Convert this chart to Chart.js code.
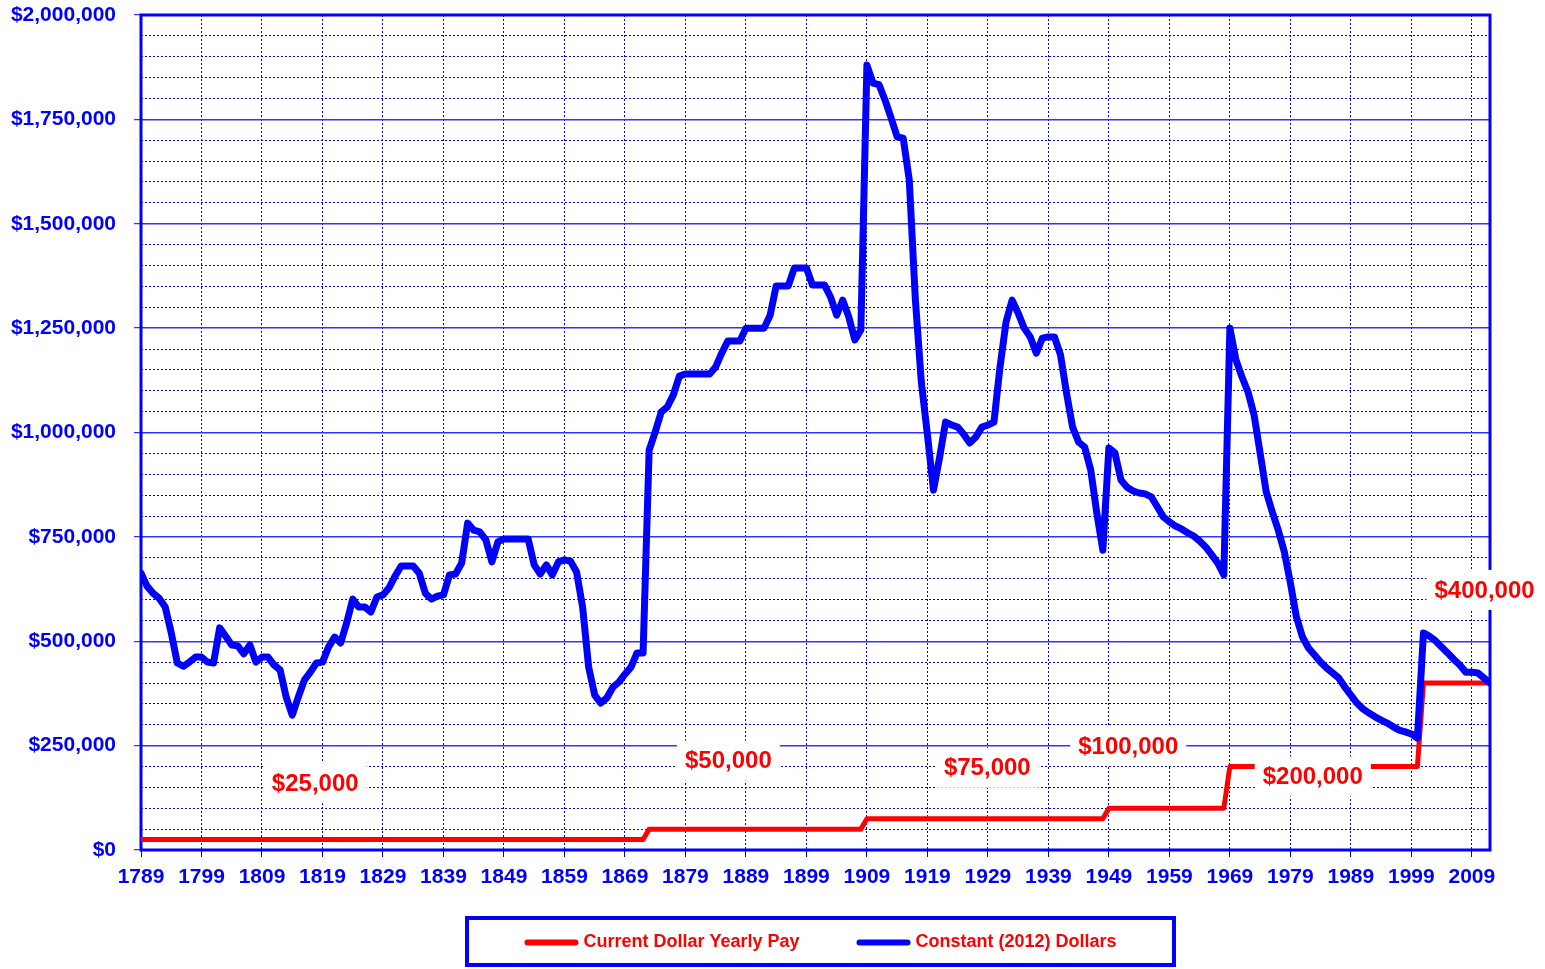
<!DOCTYPE html>
<html>
<head>
<meta charset="utf-8">
<script src="https://cdn.jsdelivr.net/npm/chart.js@4/dist/chart.umd.min.js"></script>
<style>
html,body{margin:0;padding:0;background:#ffffff;}
#wrap{width:1545px;height:969px;position:relative;overflow:hidden;}
</style>
</head>
<body>
<div id="wrap"><canvas id="c" width="1545" height="969"></canvas></div>
<script>
// ---------------- DATA ----------------
const firstYear = 1789;

// Constant (2012) dollars, one value per year 1789..2012
const constantDollars = [
  663000,
  632000, 615000, 603000, 582000, 520000, 448000, 440000, 450000, 462000, 462000,
  450000, 448000, 532000, 512000, 491000, 489000, 470000, 491000, 450000, 462000,
  462000, 443000, 431000, 366000, 323000, 366000, 407000, 426000, 448000, 450000,
  486000, 510000, 496000, 544000, 601000, 582000, 582000, 570000, 606000, 611000,
  628000, 656000, 680000, 680000, 680000, 663000, 615000, 601000, 608000, 611000,
  659000, 661000, 687000, 783000, 766000, 762000, 743000, 690000, 738000, 745000,
  745000, 745000, 745000, 745000, 683000, 661000, 683000, 659000, 690000, 695000,
  692000, 666000, 582000, 438000, 371000, 352000, 364000, 390000, 402000, 421000,
  438000, 472000, 472000, 958000, 1001000, 1049000, 1061000, 1090000, 1135000, 1140000,
  1140000, 1140000, 1140000, 1140000, 1157000, 1190000, 1219000, 1219000, 1219000, 1250000,
  1250000, 1250000, 1250000, 1281000, 1351000, 1351000, 1351000, 1394000, 1394000, 1394000,
  1353000, 1353000, 1353000, 1324000, 1281000, 1317000, 1277000, 1222000, 1245000, 1880000,
  1837000, 1833000, 1796000, 1753000, 1708000, 1705000, 1605000, 1320000, 1120000, 995000,
  862000, 939000, 1025000, 1018000, 1013000, 996000, 975000, 989000, 1013000, 1018000,
  1025000, 1157000, 1265000, 1317000, 1286000, 1250000, 1229000, 1190000, 1226000, 1229000,
  1229000, 1186000, 1094000, 1013000, 977000, 965000, 910000, 807000, 718000, 963000,
  951000, 886000, 869000, 860000, 855000, 853000, 846000, 822000, 798000, 786000,
  776000, 769000, 760000, 752000, 740000, 726000, 707000, 687000, 659000, 1250000,
  1174000, 1133000, 1097000, 1042000, 951000, 858000, 810000, 766000, 714000, 640000,
  558000, 510000, 484000, 467000, 450000, 436000, 424000, 412000, 390000, 371000,
  352000, 338000, 328000, 319000, 311000, 304000, 295000, 287000, 283000, 278000,
  268000, 520000, 512000, 501000, 486000, 472000, 457000, 443000, 426000, 426000,
  424000, 412000, 400000
];
const constantYears = constantDollars.map((_, i) => firstYear + i);

// Current dollar yearly pay (step points)
const payYears  = [1789, 1872, 1873, 1908, 1909, 1948, 1949, 1968, 1969, 2000, 2001, 2012];
const payValues = [25000, 25000, 50000, 50000, 75000, 75000, 100000, 100000, 200000, 200000, 400000, 400000];

// Series names
const seriesLabels = ['Current Dollar Yearly Pay', 'Constant (2012) Dollars'];

// Axis ticks
const xTickYears  = [1789, 1799, 1809, 1819, 1829, 1839, 1849, 1859, 1869, 1879, 1889,
                     1899, 1909, 1919, 1929, 1939, 1949, 1959, 1969, 1979, 1989, 1999, 2009];
const xTickLabels = ['1789', '1799', '1809', '1819', '1829', '1839', '1849', '1859', '1869', '1879', '1889',
                     '1899', '1909', '1919', '1929', '1939', '1949', '1959', '1969', '1979', '1989', '1999', '2009'];
const yTickValues = [0, 250000, 500000, 750000, 1000000, 1250000, 1500000, 1750000, 2000000];
const yTickLabels = ['$0', '$250,000', '$500,000', '$750,000', '$1,000,000', '$1,250,000',
                     '$1,500,000', '$1,750,000', '$2,000,000'];
const yMinorStep = 50000;

// Pay level annotations
const payLabelTexts = ['$25,000', '$50,000', '$75,000', '$100,000', '$200,000', '$400,000'];

// ---------------- LAYOUT / STYLE ----------------
const BLUE = '#0000ff';
const RED = '#ff0000';
const FONT = "'Liberation Sans', Arial, Helvetica, sans-serif";
// anchor (in data units) of each pay annotation
const payLabelAnchors = [
  {x: 1817.8, y: 160000}, {x: 1886.1, y: 214000}, {x: 1928.9, y: 197000},
  {x: 1952.2, y: 249000}, {x: 1982.7, y: 176000}, {x: 2011.1, y: 623000}
];
const LEGEND_BOX = {left: 465, top: 916, width: 711, height: 51};

const yGridValues = [];
for (let v = 0; v <= 2000000; v += yMinorStep) yGridValues.push(v);
const isMajorY = v => yTickValues.indexOf(v) >= 0;

const overlay = {
  id: 'overlay',
  beforeDatasetsDraw(chart) {
    const {ctx, chartArea: a} = chart;
    ctx.save();
    ctx.strokeStyle = BLUE;
    ctx.lineWidth = 3;
    ctx.strokeRect(a.left, a.top, a.right - a.left, a.bottom - a.top);
    ctx.restore();
  },
  afterDatasetsDraw(chart) {
    const {ctx} = chart;
    const xs = chart.scales.x, ys = chart.scales.y;
    ctx.save();
    ctx.font = 'bold 24px ' + FONT;
    ctx.textAlign = 'center';
    ctx.textBaseline = 'middle';
    payLabelTexts.forEach((t, i) => {
      const px = xs.getPixelForValue(payLabelAnchors[i].x);
      const py = ys.getPixelForValue(payLabelAnchors[i].y);
      const w = ctx.measureText(t).width + 16;
      const h = 40;
      ctx.fillStyle = '#ffffff';
      ctx.fillRect(px - w / 2, py - h / 2, w, h);
      ctx.fillStyle = RED;
      ctx.fillText(t, px, py + 1);
    });
    ctx.restore();
  },
  afterDraw(chart) {
    const {ctx} = chart;
    const b = LEGEND_BOX;
    ctx.save();
    ctx.fillStyle = '#ffffff';
    ctx.fillRect(b.left, b.top, b.width, b.height);
    ctx.strokeStyle = BLUE;
    ctx.lineWidth = 4;
    ctx.strokeRect(b.left + 2, b.top + 2, b.width - 4, b.height - 4);
    ctx.font = 'bold 18px ' + FONT;
    ctx.textBaseline = 'middle';
    ctx.textAlign = 'left';
    const sample = 54, gap = 5, itemGap = 57;
    const ds = chart.data.datasets;
    let total = 0;
    ds.forEach((d, i) => { total += sample + gap + ctx.measureText(d.label).width + (i < ds.length - 1 ? itemGap : 0); });
    let x = b.left + b.width / 2 - total / 2;
    const cy = b.top + b.height / 2 + 1;
    ds.forEach((d) => {
      ctx.strokeStyle = d.borderColor;
      ctx.lineWidth = 6;
      ctx.lineCap = 'round';
      ctx.beginPath();
      ctx.moveTo(x + 3, cy);
      ctx.lineTo(x + sample - 3, cy);
      ctx.stroke();
      x += sample + gap;
      ctx.fillStyle = RED;
      ctx.fillText(d.label, x, cy);
      x += ctx.measureText(d.label).width + itemGap;
    });
    ctx.restore();
  }
};

new Chart(document.getElementById('c'), {
  type: 'line',
  data: {
    datasets: [
      {
        label: seriesLabels[0],
        data: payYears.map((yr, i) => ({x: yr, y: payValues[i]})),
        borderColor: RED,
        backgroundColor: RED,
        borderWidth: 5,
        pointRadius: 0,
        tension: 0,
        fill: false,
        borderJoinStyle: 'round',
        borderCapStyle: 'round',
        order: 1
      },
      {
        label: seriesLabels[1],
        data: constantYears.map((yr, i) => ({x: yr, y: constantDollars[i]})),
        borderColor: BLUE,
        backgroundColor: BLUE,
        borderWidth: 7,
        pointRadius: 0,
        tension: 0,
        fill: false,
        borderJoinStyle: 'round',
        borderCapStyle: 'round',
        order: 0
      }
    ]
  },
  options: {
    responsive: false,
    animation: false,
    events: [],
    layout: {padding: {left: 0, right: 55, top: 15, bottom: 79}},
    plugins: {
      legend: {display: false},
      tooltip: {enabled: false},
      title: {display: false}
    },
    scales: {
      x: {
        type: 'linear',
        min: 1789,
        max: 2012,
        afterBuildTicks: (s) => { s.ticks = xTickYears.map(v => ({value: v})); },
        afterFit: (s) => { s.height = 40; },
        ticks: {
          autoSkip: false,
          maxRotation: 0,
          minRotation: 0,
          padding: 8,
          color: BLUE,
          font: {family: FONT, size: 21, weight: 'bold'},
          callback: (v, i) => xTickLabels[i]
        },
        grid: {
          color: BLUE,
          lineWidth: 1,
          tickColor: BLUE,
          tickLength: 7,
          tickWidth: 1
        },
        border: {display: false, dash: [2, 2]}
      },
      y: {
        type: 'linear',
        min: 0,
        max: 2000000,
        afterBuildTicks: (s) => { s.ticks = yGridValues.map(v => ({value: v})); },
        afterFit: (s) => { s.width = 141; s.paddingTop = 0; s.paddingBottom = 0; },
        ticks: {
          autoSkip: false,
          padding: 18,
          color: BLUE,
          font: {family: FONT, size: 21, weight: 'bold'},
          callback: (v) => { const k = yTickValues.indexOf(v); return k >= 0 ? yTickLabels[k] : ''; }
        },
        grid: {
          color: (c) => (c.tick && isMajorY(c.tick.value)) ? '#3333ff' : BLUE,
          lineWidth: (c) => (c.tick && isMajorY(c.tick.value)) ? 1.4 : 1,
          tickColor: (c) => (c.tick && isMajorY(c.tick.value)) ? BLUE : 'rgba(0,0,0,0)',
          tickLength: 7,
          tickWidth: 1
        },
        border: {display: false, dash: (c) => (c.tick && isMajorY(c.tick.value)) ? [] : [2, 2]}
      }
    }
  },
  plugins: [overlay]
});
</script>
</body>
</html>
